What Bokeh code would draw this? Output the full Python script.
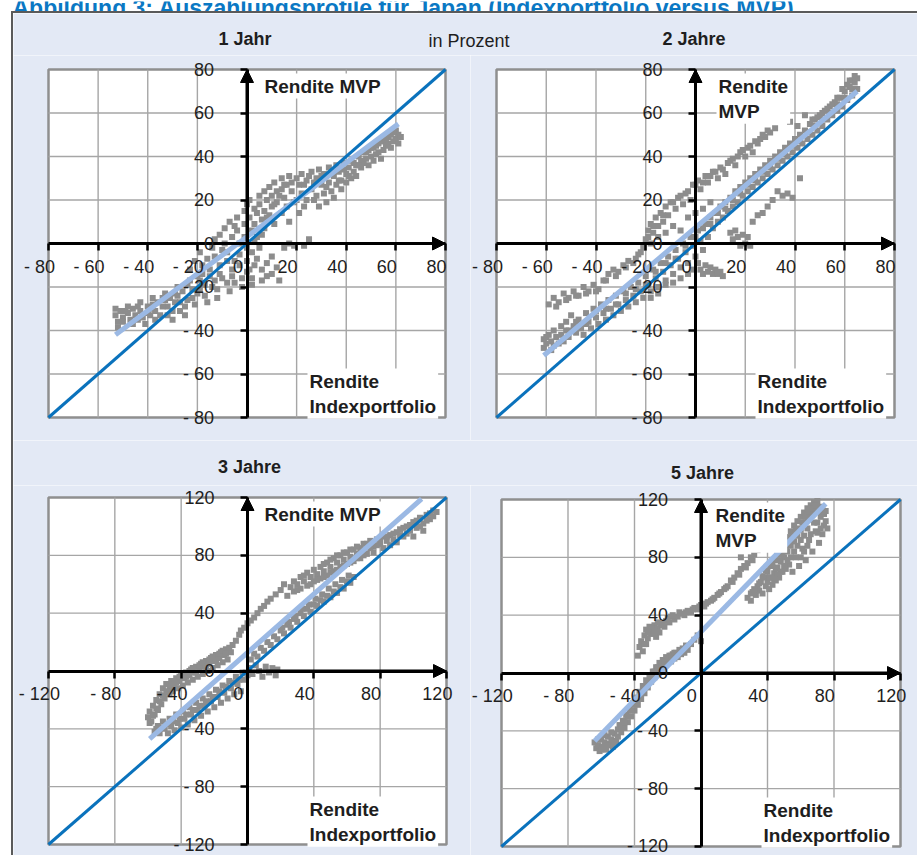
from bokeh.plotting import figure
from bokeh.models import Range1d, LinearAxis, FixedTicker, Arrow, NormalHead, Label
from bokeh.layouts import column, row
from bokeh.embed import file_html
from bokeh.resources import INLINE
from bokeh.core.properties import value

# ---------------- data ----------------
figure_title = "Abbildung 3: Auszahlungsprofile für Japan (Indexportfolio versus MVP)"
titles_top = ["1 Jahr", "2 Jahre"]
titles_bottom = ["3 Jahre", "5 Jahre"]
unit_text = "in Prozent"
ylab_one_line = "Rendite MVP"
ylab_two_lines = "Rendite\nMVP"
xlab_text = "Rendite\nIndexportfolio"

ticks_short = [-80, -60, -40, -20, 0, 20, 40, 60, 80]
ticks_long = [-120, -80, -40, 0, 40, 80, 120]

# regression lines (start / end points)
fit1_x = [-53, 61]
fit1_y = [-42, 55]
fit2_x = [-61, 65]
fit2_y = [-51.5, 70]
fit3_x = [-59, 105]
fit3_y = [-47, 119]
fit4_x = [-64, 75]
fit4_y = [-47, 117]

# scatter points: (Rendite Indexportfolio, Rendite MVP)
pts_1jahr = [
    (-53, -30), (-53, -33), (-52, -36), (-52, -38.5), (-51, -31), (-50, -34),
    (-48, -29), (-48, -32), (-47, -35), (-46, -30), (-46, -37), (-45, -33),
    (-43, -27), (-43, -31), (-42, -34), (-41, -37), (-40, -29), (-40, -32),
    (-38, -25), (-38, -28), (-37, -31), (-37, -35), (-36, -27), (-35, -33),
    (-33, -23), (-33, -26), (-32, -29), (-32, -33), (-31, -25), (-30, -31), (-30, -35),
    (-28, -20), (-28, -24), (-27, -27), (-27, -31), (-26, -22), (-25, -29), (-25, -33),
    (-23, -12), (-23, -17), (-22, -21), (-22, -25), (-21, -28), (-21, -8), (-20, -15), (-20, -23),
    (-19, -4), (-18, -10), (-18, -14), (-17, -19), (-17, -24), (-16, -27), (-16, -7), (-15, -12),
    (-14, -2), (-13, 2), (-13, -6), (-13, -17), (-12, -21), (-12, -25), (-11, -10), (-11, -14), (-11, 4),
    (-9, 7), (-9, 0), (-8, -4), (-8, -8), (-8, -18), (-7, -22), (-7, 10), (-6, 3), (-6, -12), (-6, -15),
    (-4, 12), (-4, 6), (-3, 0), (-3, -5), (-3, -10), (-2, -16), (-2, -20), (-1, 15), (-1, 9), (-1, 3),
    (0, -2), (0, -8), (0, -13), (0, 18),
    (1, 20), (1, 12), (2, 6), (2, -4), (2, -16), (2, -19), (3, 16), (3, 9), (3, 1), (3, -10), (4, 14), (4, -7),
    (5, 22), (5, 18), (6, 11), (6, 4), (6, -12), (6, -17), (7, 24), (7, 15), (7, 7), (8, -9), (8, -15), (8, 20),
    (9, 26), (9, 13), (10, 22), (10, 17), (10, -6), (10, -14), (11, 28), (11, 9), (12, 24), (12, 19), (12, -11), (13, -17),
    (14, 30), (14, 25), (14, 14), (15, 21), (15, -2), (16, 27), (16, 17), (17, 31), (17, 10), (17, 0), (18, 24), (19, -1),
    (20, 30), (20, 20), (21, 27), (21, 14), (22, 32), (22, 23), (23, 17), (23, -1), (24, 29), (24, 20), (25, 2),
    (26, 33), (26, 25), (27, 20), (28, 30), (28, 22), (29, 34), (29, 17), (30, 27), (31, 32), (31, 23), (32, 19),
    (33, 35), (33, 28), (34, 24), (35, 31), (35, 21), (36, 36), (36, 27), (37, 33), (38, 25), (38, 29),
    (39, 37), (40, 32), (40, 28), (41, 35), (42, 30), (42, 38), (43, 33), (44, 36), (44, 31),
    (45, 40), (46, 35), (46, 38), (47, 42), (47, 37), (48, 39), (49, 36), (49, 43), (50, 40),
    (51, 44), (51, 38), (52, 41), (53, 46), (53, 42), (54, 39), (55, 47), (55, 43), (56, 45),
    (57, 49), (57, 46), (58, 44), (58, 50), (59, 47), (60, 52), (60, 48), (61, 46), (61, 50),
    (-50, -36), (-49, -31), (-44, -35), (-44, -29), (-39, -33), (-39, -30), (-34, -29), (-34, -25),
    (-29, -27), (-29, -23), (-24, -26), (-24, -19), (-19, -17), (-19, -21), (-15, -15), (-14, -20),
    (-10, -3), (-10, -16), (-5, 8), (-5, -8), (-5, -18), (1, -12), (4, 3), (5, -2), (8, 12), (11, 18),
    (13, 22), (15, 27), (18, 28), (19, 19), (23, 27), (25, 31), (27, 28), (30, 31), (32, 26), (34, 33),
    (37, 29), (39, 34), (41, 31), (43, 37), (45, 36), (48, 42), (50, 44), (52, 45), (54, 47), (56, 48),
    (59, 51), (62, 49),
]

pts_2jahre = [
    (-61, -44), (-61, -48), (-60, -46), (-59, -42), (-58, -45), (-58, -49), (-57, -40), (-56, -43),
    (-55, -46), (-54, -38), (-54, -42), (-53, -45), (-52, -36), (-51, -40), (-51, -43), (-50, -33),
    (-49, -38), (-48, -41), (-47, -35), (-46, -39), (-45, -42), (-44, -32), (-43, -36), (-42, -39),
    (-41, -30), (-40, -34), (-39, -37), (-38, -28), (-37, -32), (-36, -35), (-35, -26), (-34, -30),
    (-33, -33), (-32, -24), (-31, -28), (-30, -31), (-29, -22), (-28, -26), (-27, -29), (-26, -20),
    (-25, -24), (-24, -27), (-23, -18), (-22, -22), (-21, -25), (-20, -15), (-19, -19), (-18, -22),
    (-17, -12), (-16, -16), (-15, -20), (-14, -9), (-13, -13), (-12, -17), (-11, -6), (-10, -10),
    (-9, -14), (-8, -3), (-7, -7), (-6, -11), (-5, 0), (-4, -4), (-3, -9), (-2, 3), (-1, -1), (0, -6),
    (1, 6), (2, 1), (3, -3),
    (-18, -25), (-15, -23), (-12, -19), (-9, -18), (-6, -16), (-3, -14), (-1, -12),
    (-59, -28), (-57, -25), (-55, -27), (-53, -23), (-51, -25), (-49, -22), (-47, -24), (-45, -20),
    (-43, -22), (-41, -19), (-39, -21), (-37, -17), (-35, -14), (-33, -12), (-31, -13), (-29, -10),
    (-27, -8), (-25, -9), (-23, -5), (-21, -2), (-20, 2), (-19, 6), (-18, 9), (-17, 5), (-16, 12),
    (-15, 8), (-14, 14), (-13, 10), (-12, 17), (-11, 13), (-10, 19), (-8, 16), (-7, 21), (-5, 18),
    (-4, 23), (-2, 20), (-1, 27), (1, 29), (2, 25), (4, 31), (5, 28), (7, 33), (9, 30), (10, 35),
    (12, 32), (13, 37), (15, 39), (16, 36), (18, 42), (20, 40), (21, 44), (23, 42), (25, 46), (26, 48),
    (28, 49), (30, 51), (32, 53), (38, 56), (44, 59), (41, 54),
    (-18, 0), (-15, 3), (-12, 5), (-9, 8), (-6, 6), (-3, 12), (0, 14), (3, 16), (6, 19),
    (4, 9), (5, 3), (6, 12), (7, 7), (8, 14), (9, 10), (10, 17), (11, 12), (12, 19), (13, 15),
    (14, 21), (15, 17), (16, 24), (17, 19), (18, 26), (19, 22), (20, 28), (21, 24), (22, 30), (23, 26),
    (24, 32), (25, 28), (26, 34), (27, 30), (28, 36), (29, 32), (30, 38), (31, 34), (32, 40), (33, 36),
    (34, 42), (35, 38), (36, 44), (37, 40), (38, 46), (39, 42), (40, 48), (41, 44), (42, 50), (43, 46),
    (44, 52), (45, 48), (46, 55), (47, 50), (48, 57), (49, 52), (50, 59), (51, 54), (52, 61), (53, 57),
    (54, 63), (55, 59), (56, 65), (57, 61), (58, 67), (59, 63), (60, 70), (61, 66), (62, 72), (63, 68),
    (64, 74), (65, 71), (65, 76), (63, 75), (61, 73), (59, 71), (57, 67), (55, 64), (53, 62), (51, 60),
    (49, 58), (47, 57),
    (1, -9), (2, -12), (3, -14), (4, -10), (5, -13), (6, -11), (7, -14), (8, -12), (9, -14), (10, -13),
    (11, -15), (14, 5), (15, 2), (16, 6), (17, 3), (18, -1), (19, 4), (20, 0), (21, 3), (22, -1),
    (23, 10), (25, 13), (27, 14), (29, 17), (31, 20), (33, 24), (35, 22), (37, 23), (39, 21), (42, 30),
    (-60, -43), (-57, -47), (-52, -40), (-48, -36), (-44, -37), (-40, -31), (-36, -30), (-32, -28),
    (-28, -23), (-24, -21), (-20, -19), (-16, -13), (-12, -9), (-8, -7), (-4, -1), (0, 3), (3, 7),
    (6, 9), (9, 14), (12, 16), (15, 20), (18, 23), (21, 27), (24, 29), (27, 33), (30, 35), (33, 39),
    (36, 41), (39, 45), (42, 47), (45, 51), (48, 54), (51, 57), (54, 60), (57, 64), (60, 67), (63, 71),
    (62, 75), (64, 77),
    (-56, -29), (-52, -26), (-48, -24), (-44, -23), (-40, -22), (-36, -17), (-32, -15), (-28, -11),
    (-24, -7), (-22, -4), (-19, 3), (-17, 8), (-13, 13), (-9, 19), (-6, 22), (-3, 24), (0, 27), (3, 28),
    (6, 31), (8, 33), (11, 34), (14, 38), (17, 40), (19, 43), (22, 45), (24, 47), (27, 50), (29, 52),
]

pts_3jahre = [
    (-60, -32), (-59, -28), (-58, -35), (-57, -24), (-56, -30), (-55, -20), (-54, -27), (-53, -16),
    (-52, -23), (-51, -12), (-50, -19), (-49, -9), (-48, -15), (-47, -11), (-46, -7), (-45, -14),
    (-44, -9), (-43, -5), (-42, -12), (-41, -7), (-40, -3), (-39, -10), (-38, -5), (-37, -1),
    (-36, -8), (-35, -3), (-34, 1), (-33, -6), (-32, -1), (-31, 3), (-30, -4), (-29, 1), (-28, 5),
    (-27, -2), (-26, 3), (-25, 7), (-24, 0), (-23, 5), (-22, 9), (-21, 2), (-20, 7), (-19, 11),
    (-18, 4), (-17, 9), (-16, 13), (-15, 6), (-14, 11), (-13, 15), (-12, 8), (-10, 13), (-9, 18),
    (-7, 21), (-5, 25), (-4, 28), (-2, 30), (0, 33), (2, 35), (4, 37), (6, 40), (8, 43), (10, 45),
    (12, 48), (14, 50), (17, 53), (20, 56), (22, 60),
    (-56, -42), (-54, -38), (-53, -43), (-51, -35), (-50, -40), (-48, -43), (-47, -33), (-46, -38),
    (-44, -41), (-43, -30), (-42, -36), (-40, -39), (-39, -28), (-38, -33), (-36, -37), (-35, -25),
    (-34, -30), (-32, -34), (-31, -22), (-30, -27), (-28, -31), (-27, -19), (-26, -24), (-24, -28),
    (-23, -16), (-22, -21), (-20, -25), (-19, -13), (-18, -18), (-16, -22), (-15, -10), (-14, -15),
    (-12, -19), (-11, -7), (-10, -12), (-8, -16), (-7, -4), (-6, -9), (-4, -14), (-3, -1), (-2, -6),
    (0, -3), (1, 2), (3, -2), (5, 4), (7, 0), (9, -4), (11, 3), (13, -1), (15, 2), (17, -3), (18, 1),
    (2, 8), (4, 12), (6, 10), (8, 16), (10, 14), (12, 20), (14, 18), (16, 24), (18, 22), (20, 28),
    (22, 26), (24, 32), (26, 30), (28, 36), (30, 34), (32, 40), (34, 38), (36, 43), (38, 41), (40, 46),
    (42, 45), (44, 49), (46, 48), (48, 52), (50, 51), (52, 55), (54, 54), (56, 58), (58, 57), (60, 62),
    (62, 61), (64, 65),
    (24, 52), (26, 58), (28, 55), (28, 62), (30, 60), (32, 57), (32, 65), (34, 62), (36, 59), (36, 68),
    (38, 65), (40, 62), (40, 70), (42, 67), (44, 64), (44, 72), (46, 69), (48, 66), (48, 75), (50, 72),
    (52, 69), (52, 78), (54, 75), (56, 72), (56, 80), (58, 77), (60, 74), (60, 82), (62, 79), (64, 76),
    (64, 84), (66, 81), (68, 85), (68, 78), (70, 84), (70, 88),
    (72, 88), (72, 81), (74, 90), (76, 86), (76, 82), (78, 91), (80, 88), (82, 93), (82, 85), (84, 90),
    (86, 94), (86, 87), (88, 91), (90, 96), (90, 89), (92, 98), (94, 93), (96, 100), (96, 95), (98, 97),
    (100, 103), (102, 99), (104, 106), (106, 102), (108, 108), (110, 105), (112, 111), (114, 110),
    (106, 97), (100, 93),
    (-59, -36), (-57, -31), (-55, -26), (-53, -21), (-51, -17), (-49, -14), (-47, -16), (-45, -10),
    (-43, -8), (-41, -4), (-39, -2), (-37, -4), (-35, 0), (-33, 2), (-31, -1), (-29, 4), (-27, 6),
    (-25, 3), (-23, 8), (-21, 10), (-19, 7), (-17, 12), (-15, 14), (-13, 12), (-11, 16),
    (-55, -40), (-52, -39), (-49, -37), (-45, -35), (-41, -33), (-37, -30), (-33, -27), (-29, -24),
    (-25, -21), (-21, -18), (-17, -14), (-13, -11), (-9, -8), (-5, -6), (-1, -1),
    (30, 56), (34, 66), (38, 60), (42, 63), (46, 65), (46, 74), (50, 68), (50, 77), (54, 70), (54, 80),
    (58, 73), (58, 82), (62, 75), (62, 84), (66, 78), (66, 86), (70, 80), (74, 85), (78, 87), (80, 92),
    (84, 93), (88, 95), (92, 94), (94, 99), (98, 101), (102, 104), (104, 100), (108, 104), (110, 109),
    (112, 107),
    (21, 30), (25, 34), (29, 38), (33, 43), (37, 46), (41, 50), (45, 53), (49, 57), (53, 60), (57, 63),
    (61, 66),
]

pts_5jahre = [
    (-64, -48), (-63, -52), (-62, -50), (-61, -54), (-60, -46), (-59, -51), (-58, -48), (-57, -53),
    (-56, -44), (-55, -49), (-54, -46), (-53, -51), (-52, -42), (-51, -47), (-50, -39), (-50, -44),
    (-49, -36), (-48, -41), (-47, -33), (-46, -38), (-45, -29), (-44, -34), (-43, -25), (-42, -30),
    (-41, -21), (-40, -26), (-39, -17), (-38, -22), (-37, -13), (-36, -18), (-35, -9), (-34, -14),
    (-33, -5), (-32, -10), (-31, -2), (-30, -6), (-29, 1), (-28, -3), (-27, 4), (-26, 0), (-25, 7),
    (-24, 3), (-23, 9), (-22, 5), (-21, 11), (-20, 7), (-19, 12), (-18, 8), (-17, 13), (-16, 10),
    (-15, 14), (-14, 11), (-13, 16), (-12, 13), (-11, 17), (-10, 14), (-9, 19), (-8, 16),
    (-6, 20), (-4, 23), (-2, 26), (0, 22),
    (-38, 12), (-37, 18), (-36, 22), (-35, 15), (-34, 26), (-33, 20), (-33, 30), (-32, 24), (-31, 32),
    (-30, 27), (-29, 29), (-28, 33), (-27, 25), (-26, 31), (-25, 28), (-24, 34), (-22, 32), (-21, 36),
    (-19, 35), (-18, 39), (-16, 37), (-14, 39), (-12, 41), (-10, 40), (-8, 43), (-6, 42), (-4, 45),
    (-2, 44), (0, 47), (2, 46), (4, 49), (6, 50), (8, 52), (10, 54), (12, 56), (14, 58), (16, 60),
    (18, 64), (20, 66), (22, 69), (24, 72), (26, 74), (28, 76), (30, 80), (32, 82), (34, 85), (24, 80),
    (30, 94), (40, 94),
    (28, 52), (30, 50), (31, 56), (33, 54), (34, 60), (35, 57), (36, 63), (37, 55), (38, 66), (39, 60),
    (40, 70), (40, 63), (41, 58), (42, 74), (42, 66), (43, 61), (44, 78), (44, 69), (45, 64), (46, 82),
    (46, 73), (47, 66), (48, 86), (48, 77), (49, 70), (50, 90), (50, 80), (51, 72), (52, 94), (52, 84),
    (53, 75), (54, 98), (54, 88), (55, 70), (56, 102), (56, 91), (57, 80), (58, 105), (58, 95), (59, 74),
    (60, 108), (60, 99), (61, 86), (62, 111), (62, 102), (63, 78), (64, 114), (64, 106), (65, 92),
    (66, 116), (66, 109), (67, 84), (68, 118), (68, 112), (69, 98), (70, 119), (70, 104), (71, 90),
    (72, 115), (72, 108), (73, 96), (74, 110), (74, 102), (75, 105), (76, 100),
    (-62, -46), (-60, -53), (-58, -43), (-56, -50), (-54, -41), (-52, -48), (-48, -38), (-46, -34),
    (-44, -30), (-42, -26), (-40, -22), (-38, -18), (-36, -14), (-34, -10), (-32, -6), (-30, -2),
    (-28, 1), (-26, 4), (-24, 6), (-22, 8), (-20, 10), (-18, 12), (-16, 14),
    (-34, 20), (-32, 28), (-30, 31), (-28, 29), (-26, 35), (-23, 33), (-20, 38), (-17, 40), (-13, 42),
    (-9, 42), (-5, 44), (-1, 46), (3, 48), (7, 51), (11, 55), (15, 59), (19, 63), (23, 68), (27, 73),
    (31, 78), (33, 86), (36, 88), (38, 90),
    (30, 55), (32, 58), (35, 62), (37, 67), (39, 71), (41, 66), (43, 75), (45, 72), (47, 78), (49, 82),
    (51, 86), (53, 90), (55, 95), (57, 99), (59, 100), (61, 104), (63, 108), (65, 112), (67, 114),
    (69, 116), (71, 112), (73, 113), (75, 112), (62, 95), (64, 100), (66, 96), (68, 104), (70, 97),
    (72, 100), (56, 84), (58, 88), (60, 92), (54, 80), (52, 78), (50, 74), (48, 70), (46, 68), (44, 65),
    (60, 80), (62, 84), (64, 88),
]

# ---------------- styling ----------------
FONT = "Liberation Sans"
BOX_BG = "#e3e9f5"
BORDER = "#5a5a5a"
TITLE_C = "#0a78c4"
POINT = "#8d8d8d"
DIAG = "#0a72bc"
FIT = "#9bb9e4"
GRIDC = "#a6a6a6"
FRAMEC = "#8f8f8f"
TEXTC = "#1e1e1e"

# page-pixel layout of each panel: figure box (x0, y0, w, h) and plot area (l, t, r, b)
specs = [
    dict(fig=(13, 55, 457, 385), frame=(48, 69, 445, 417), shift=3.625,
         labels=[(ylab_one_line, 262, 73), (xlab_text, 307, 368)]),
    dict(fig=(470, 55, 447, 385), frame=(496, 69, 894, 417), shift=3.625,
         labels=[(ylab_two_lines, 716, 73), (xlab_text, 755, 368)]),
    dict(fig=(13, 485, 457, 370), frame=(48, 497, 446, 844), shift=5.5,
         labels=[(ylab_one_line, 262, 501), (xlab_text, 307, 796)]),
    dict(fig=(470, 485, 447, 370), frame=(501, 499, 900, 846), shift=5.5,
         labels=[(ylab_two_lines, 713, 502), (xlab_text, 761, 797)]),
]


def fmt(t):
    return "- %d" % (-t) if t < 0 else "%d" % t


def make_panel(spec, pts, fit_x, fit_y, ticks):
    fx0, fy0, W, H = spec["fig"]
    fl, ft, fr, fb = spec["frame"]
    lo, hi = ticks[0], ticks[-1]
    ux = (hi - lo) / (fr - fl)
    uy = (hi - lo) / (fb - ft)
    xr = Range1d(lo - (fl - fx0) * ux, hi + (fx0 + W - fr) * ux)
    yr = Range1d(lo - (fy0 + H - fb) * uy, hi + (ft - fy0) * uy)
    p = figure(width=W, height=H, x_range=xr, y_range=yr,
               output_backend="svg", toolbar_location=None,
               x_axis_location=None, y_axis_location=None, min_border=0)
    p.background_fill_color = BOX_BG
    p.border_fill_color = BOX_BG
    p.outline_line_color = None
    p.grid.visible = False

    # plot area
    p.quad(left=[lo], right=[hi], bottom=[lo], top=[hi], fill_color="white",
           line_color=FRAMEC, line_width=2.5)
    inner = ticks[1:-1]
    p.segment(x0=inner, y0=[lo] * len(inner), x1=inner, y1=[hi] * len(inner),
              line_color=GRIDC, line_width=1.4)
    p.segment(x0=[lo] * len(inner), y0=inner, x1=[hi] * len(inner), y1=inner,
              line_color=GRIDC, line_width=1.4)

    xs = [a for a, b in pts]
    ys = [b for a, b in pts]
    p.scatter(xs, ys, marker="square", size=6, fill_color=POINT, line_color=None)
    p.line(fit_x, fit_y, line_color=FIT, line_width=5)
    p.line([lo, hi], [lo, hi], line_color=DIAG, line_width=3)

    common = dict(major_label_text_font=FONT, major_label_text_font_size="18px",
                  major_label_text_color=TEXTC, minor_tick_line_color=None)
    yax = LinearAxis(fixed_location=0, bounds=(lo, hi), ticker=FixedTicker(ticks=ticks),
                     major_label_overrides={t: fmt(t) for t in ticks},
                     axis_line_color="black", axis_line_width=3,
                     major_tick_line_color="black", major_tick_line_width=2.5,
                     major_tick_in=0, major_tick_out=7, major_label_standoff=26, **common)
    p.add_layout(yax, "left")
    xax = LinearAxis(fixed_location=0, bounds=(lo, hi), ticker=FixedTicker(ticks=ticks),
                     major_label_overrides={t: "" for t in ticks},
                     axis_line_color="black", axis_line_width=3,
                     major_tick_line_color="black", major_tick_line_width=2.5,
                     major_tick_in=0, major_tick_out=7, **common)
    p.add_layout(xax, "below")
    d = spec["shift"]
    p.extra_x_ranges = {"lab": Range1d(xr.start + d, xr.end + d)}
    xlab = LinearAxis(x_range_name="lab", fixed_location=0, bounds=(lo, hi),
                      ticker=FixedTicker(ticks=ticks),
                      major_label_overrides={t: fmt(t) for t in ticks},
                      axis_line_color=None, major_tick_line_color=None,
                      major_tick_in=0, major_tick_out=0, major_label_standoff=13, **common)
    p.add_layout(xlab, "below")

    p.add_layout(Arrow(end=NormalHead(size=13, fill_color="black", line_color="black"),
                       x_start=0, y_start=0, x_end=hi, y_end=0, line_color="black", line_width=3))
    p.add_layout(Arrow(end=NormalHead(size=13, fill_color="black", line_color="black"),
                       x_start=0, y_start=0, x_end=0, y_end=hi, line_color="black", line_width=3))

    def to_data(px, py):
        return lo + (px - fl) * ux, hi - (py - ft) * uy

    for txt, px, py in spec["labels"]:
        x, y = to_data(px, py)
        p.add_layout(Label(x=x, y=y, text=txt, text_font=FONT, text_font_style="bold",
                           text_font_size="19px", text_color=TEXTC, text_baseline="top",
                           text_align="left", background_fill_color="white", padding=2))
    return p


def make_strip(x0, y0, w, h, items, bg):
    s = figure(width=w, height=h, x_range=Range1d(x0, x0 + w), y_range=Range1d(y0 + h, y0),
               output_backend="svg", toolbar_location=None,
               x_axis_location=None, y_axis_location=None, min_border=0)
    s.grid.visible = False
    s.outline_line_color = None
    s.background_fill_color = bg
    s.border_fill_color = bg
    for txt, px, py, style, align, size, color, base in items:
        s.text(x=[px], y=[py], text=[txt], text_font=value(FONT), text_font_style=style,
               text_font_size=size, text_align=align, text_baseline=base, text_color=color)
    return s


p1 = make_panel(specs[0], pts_1jahr, fit1_x, fit1_y, ticks_short)
p2 = make_panel(specs[1], pts_2jahre, fit2_x, fit2_y, ticks_short)
p3 = make_panel(specs[2], pts_3jahre, fit3_x, fit3_y, ticks_long)
p4 = make_panel(specs[3], pts_5jahre, fit4_x, fit4_y, ticks_long)

# the figure caption is cut by the top edge of the page, as in the original
title_strip = make_strip(0, 0, 917, 11, [
    (figure_title, 12, 6, "bold", "left", "23px", TITLE_C, "alphabetic"),
], "white")
strip1 = make_strip(13, 13, 904, 42, [
    (titles_top[0], 244.5, 38.5, "bold", "center", "18px", TEXTC, "middle"),
    (unit_text, 428, 40, "normal", "left", "18px", TEXTC, "middle"),
    (titles_top[1], 693.5, 38.5, "bold", "center", "18px", TEXTC, "middle"),
], BOX_BG)
strip2 = make_strip(13, 440, 904, 45, [
    (titles_bottom[0], 249, 466, "bold", "center", "18px", TEXTC, "middle"),
    (titles_bottom[1], 702, 472, "bold", "center", "18px", TEXTC, "middle"),
], BOX_BG)

box = column(strip1, row(p1, p2), strip2, row(p3, p4),
             styles={"margin-left": "11px",
                     "border-left": "2px solid " + BORDER,
                     "border-top": "2px solid " + BORDER})
layout = column(title_strip, box)

open("out.html", "w").write(file_html(layout, INLINE, title="Auszahlungsprofile Japan"))
